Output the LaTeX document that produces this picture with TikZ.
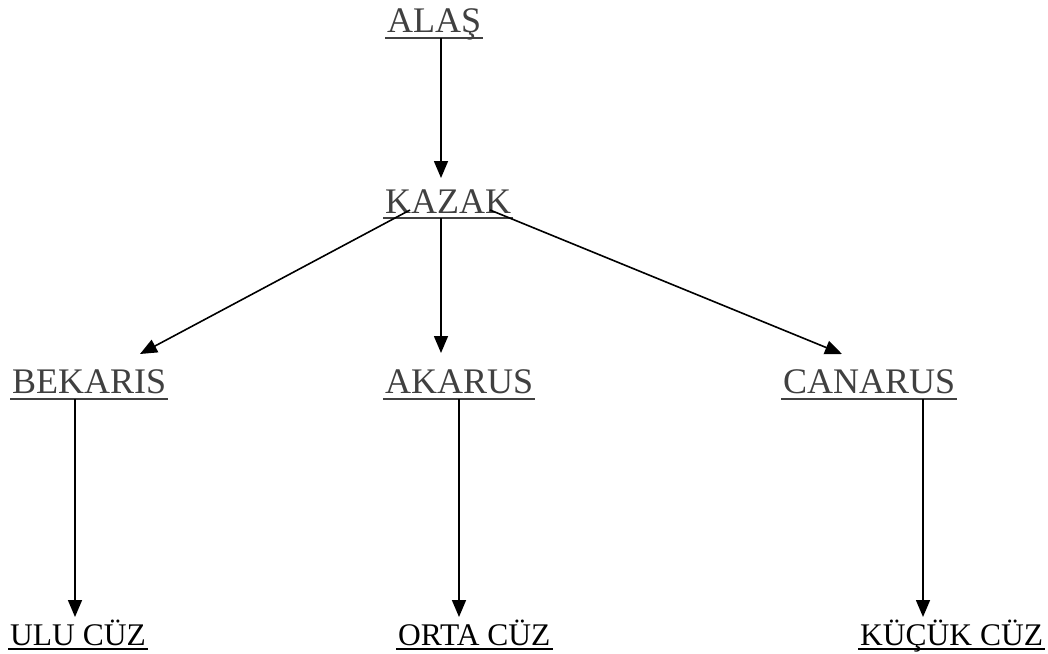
\documentclass[tikz,border=0pt]{standalone}
\usepackage{fontspec}
\setmainfont{Liberation Serif}
\usetikzlibrary{arrows.meta}
\definecolor{lblgray}{HTML}{404040}
\tikzset{
  toplbl/.style={anchor=base west, inner sep=0pt, font=\fontsize{36}{40}\selectfont, text=lblgray},
  botlbl/.style={anchor=base west, inner sep=0pt, font=\fontsize{31.5}{36}\selectfont, text=black},
  arr/.style={line width=1.6pt, -{Triangle[length=17pt,width=14pt]}},
}
\newcommand{\ul}[3]{\draw[line width=2pt, #2] ([xshift=-2pt,yshift=-#3pt]#1.base west) -- ([xshift=2pt,yshift=-#3pt]#1.base east);}
\begin{document}
\begin{tikzpicture}[x=1pt,y=-1pt]
\useasboundingbox[fill=white] (0,0) rectangle (1048,653);
\node[toplbl] (alas) at (387,32) {ALAŞ};
\node[toplbl] (kazak) at (385,213) {KAZAK};
\node[toplbl] (bekaris) at (12,393) {BEKARIS};
\node[toplbl] (akarus) at (385,393) {AKARUS};
\node[toplbl] (canarus) at (783,393) {CANARUS};
\node[botlbl] (ulu) at (10,645) {ULU CÜZ};
\node[botlbl] (orta) at (398,645) {ORTA CÜZ\ };
\node[botlbl] (kucuk) at (860,645) {KÜÇÜK CÜZ};
\ul{alas}{lblgray}{6}
\ul{kazak}{lblgray}{5}
\ul{bekaris}{lblgray}{6}
\ul{akarus}{lblgray}{6}
\ul{canarus}{lblgray}{6}
\ul{ulu}{black}{4}
\ul{orta}{black}{4}
\ul{kucuk}{black}{4}
\draw[arr] ([xshift=54pt,yshift=-6pt]alas.base west) -- ([xshift=56pt,yshift=35pt]kazak.base west);
\draw[arr] ([xshift=25pt,yshift=3pt]kazak.base west) -- ([xshift=128pt,yshift=39pt]bekaris.base west);
\draw[arr] ([xshift=56pt,yshift=-5pt]kazak.base west) -- ([xshift=56pt,yshift=40pt]akarus.base west);
\draw[arr] ([xshift=105pt,yshift=3pt]kazak.base west) -- ([xshift=59pt,yshift=39pt]canarus.base west);
\draw[arr] ([xshift=63pt,yshift=-6pt]bekaris.base west) -- ([xshift=65pt,yshift=28pt]ulu.base west);
\draw[arr] ([xshift=74pt,yshift=-6pt]akarus.base west) -- ([xshift=61pt,yshift=28pt]orta.base west);
\draw[arr] ([xshift=140pt,yshift=-6pt]canarus.base west) -- ([xshift=63pt,yshift=28pt]kucuk.base west);
\end{tikzpicture}
\end{document}
